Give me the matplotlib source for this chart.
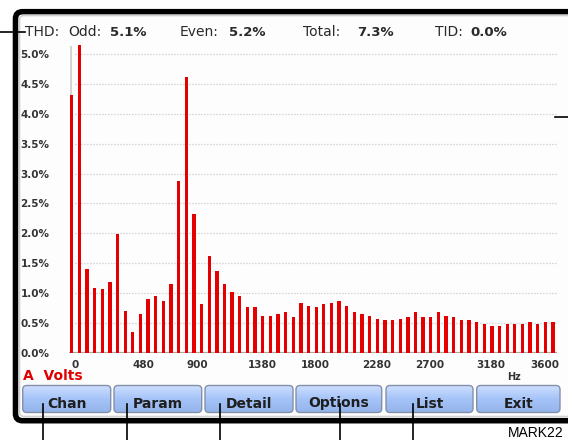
import matplotlib
matplotlib.use("Agg")
import matplotlib.pyplot as plt
from matplotlib.patches import FancyBboxPatch
import numpy as np

# harmonic spectrum, % of fundamental, harmonics 0..63 at 60 Hz
harmonics = list(range(64))
levels = [4.32, 5.15, 1.40, 1.09, 1.06, 1.18, 1.99, 0.70, 0.34, 0.65,
          0.90, 0.95, 0.87, 1.15, 2.88, 4.62, 2.33, 0.81, 1.62, 1.37,
          1.15, 1.01, 0.95, 0.76, 0.76, 0.62, 0.62, 0.65, 0.68, 0.59,
          0.84, 0.79, 0.76, 0.82, 0.84, 0.87, 0.79, 0.68, 0.65, 0.62,
          0.56, 0.54, 0.54, 0.56, 0.59, 0.68, 0.59, 0.59, 0.68, 0.62,
          0.59, 0.54, 0.54, 0.51, 0.48, 0.45, 0.45, 0.48, 0.48, 0.48,
          0.51, 0.48, 0.51, 0.51]
fund_level = 5.13          # clipped fundamental drawn in grey
fund_hz = 60
x_ticks = [0, 480, 900, 1380, 1800, 2280, 2700, 3180, 3600]
y_ticks = [0.0, 0.5, 1.0, 1.5, 2.0, 2.5, 3.0, 3.5, 4.0, 4.5, 5.0]

header_names = ["Odd:", "Even:", "Total:", "TID:"]
header_values = ["5.1%", "5.2%", "7.3%", "0.0%"]
buttons = ["Chan", "Param", "Detail", "Options", "List", "Exit"]

W, H = 568, 440
fig = plt.figure(figsize=(W / 100, H / 100), dpi=100)
fig.patch.set_facecolor("white")

# background layer in pixel coords (y down)
bg = fig.add_axes([0, 0, 1, 1], zorder=0)
bg.set_xlim(0, W)
bg.set_ylim(H, 0)
bg.axis("off")

# device frame
bg.add_patch(FancyBboxPatch((15.5, 11.7), 620, 409, boxstyle="round,pad=0,rounding_size=7",
                            fc="#fdfdfd", ec="black", lw=4.0))
bg.add_patch(FancyBboxPatch((19.5, 15.5), 620, 401, boxstyle="round,pad=0,rounding_size=5",
                            fc="none", ec="#d2d2d2", lw=1.2))

# buttons
btn_x = [(22.7, 110.7), (114, 201.7), (205, 293), (296, 381.7), (386, 473), (476.7, 560)]
grad = np.linspace(0, 1, 64).reshape(-1, 1)
cmap = matplotlib.colors.LinearSegmentedColormap.from_list(
    "btn", ["#cfe0ff", "#a6c4f8", "#94b4ec"])
for (x0, x1), name in zip(btn_x, buttons):
    p = FancyBboxPatch((x0, 385.5), x1 - x0, 27, boxstyle="round,pad=0,rounding_size=4",
                       fc="none", ec="#8290aa", lw=1.0, zorder=3)
    bg.add_patch(p)
    im = bg.imshow(grad, extent=(x0, x1, 412.5, 385.5), cmap=cmap, aspect="auto", zorder=2)
    im.set_clip_path(p)
    bg.text((x0 + x1) / 2, 403.5, name, ha="center", va="center", fontsize=10,
            fontweight="bold", color="#1e1e1e", zorder=4)

bg.text(23, 376.5, "A  Volts", ha="left", va="center", fontsize=10, fontweight="bold",
        color="#e00000")
bg.text(507, 377.5, "Hz", ha="left", va="center", fontsize=7, fontweight="bold", color="#333333")

# header
bg.text(25, 32, "THD:", ha="left", va="center", fontsize=10, color="#2a2a2a")
name_x = [68, 180, 303, 435]
val_x = [110, 229, 357, 470]
for nx, vx, n, v in zip(name_x, val_x, header_names, header_values):
    bg.text(nx, 32, n, ha="left", va="center", fontsize=10, color="#2a2a2a")
    bg.text(vx, 32, v, ha="left", va="center", fontsize=9.5, fontweight="bold", color="#2a2a2a")

# callout lines
bg.plot([0, 25], [31.7, 31.7], color="black", lw=1.2, zorder=5)
bg.plot([555, 568], [117, 117], color="black", lw=1.2, zorder=5)
for cx in [42.7, 126.7, 220, 340, 412.7]:
    bg.plot([cx, cx], [404, 440], color="black", lw=1.2, zorder=5)
bg.text(508, 433, "MARK22", ha="left", va="center", fontsize=10, color="black",
        family="Liberation Sans")

# spectrum axes
x0_px, x1_px = 69, 557
y0_px, y1_px = 352.7, 36.3
ax = fig.add_axes([x0_px / W, 1 - y0_px / H, (x1_px - x0_px) / W, (y0_px - y1_px) / H], zorder=1)
ax.patch.set_alpha(0)
px_per_h = 7.64
ax.set_xlim(-(71.7 - x0_px) / px_per_h * fund_hz, (x1_px - 71.7) / px_per_h * fund_hz)
ax.set_ylim(0, (y0_px - y1_px) / 59.7)
for s in ax.spines.values():
    s.set_visible(False)

hz = [h * fund_hz for h in harmonics]
ax.bar([-4], [fund_level], width=12, color="#d4d4d4", zorder=2)
ax.bar(hz, levels, width=26, color="#e40000", zorder=3)
ax.axhline(0, color="#a8a8a8", lw=1.6, zorder=2)

ax.set_yticks(y_ticks)
ax.set_yticklabels([f"{v:.1f}%" for v in y_ticks])
ax.set_xticks(x_ticks)
ax.set_xticklabels([str(v) for v in x_ticks])
ax.tick_params(axis="y", length=0, pad=14, labelsize=7.5, labelcolor="#333333")
ax.tick_params(axis="x", length=0, pad=5, labelsize=7.5, labelcolor="#333333")
for lab in ax.get_yticklabels() + ax.get_xticklabels():
    lab.set_fontweight("bold")
for lab in ax.get_xticklabels():
    lab.set_ha("left")
for v in y_ticks[1:]:
    ax.axhline(v, xmin=0.013, xmax=1, color="#b4b4b4", lw=0.9, ls=(0, (0.7, 1.7)), zorder=1)

fig.savefig("out.png", dpi=100)
